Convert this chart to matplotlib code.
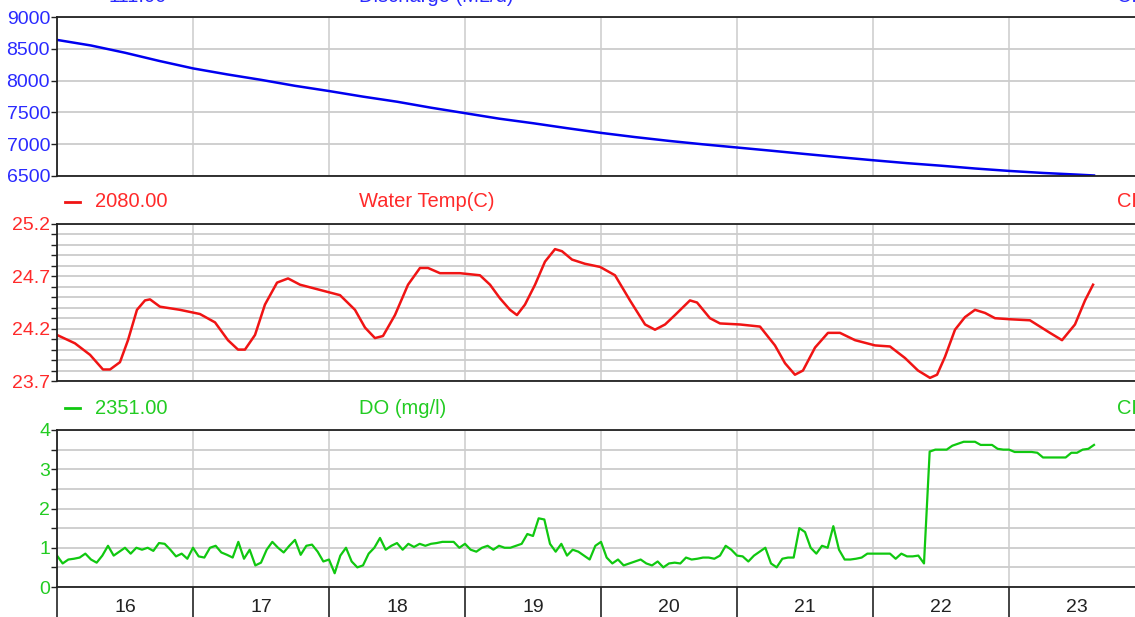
import matplotlib
matplotlib.use('Agg')
import matplotlib.pyplot as plt
from matplotlib.lines import Line2D
from matplotlib.ticker import MultipleLocator, FixedLocator

plt.rcParams['font.family'] = ['Liberation Sans', 'DejaVu Sans']

# days of the month; day N runs from N.0 to N+1.0
day_ticks = [16, 17, 18, 19, 20, 21, 22, 23]
day_labels = ['16', '17', '18', '19', '20', '21', '22', '23']

# Discharge (ML/d), 6-hourly from the 16th 00:00
q_hours = list(range(0, 181, 6)) + [183]
q_vals = [8640, 8552, 8438, 8310, 8192, 8098, 8012, 7918, 7836, 7748, 7668,
          7574, 7488, 7402, 7330, 7252, 7178, 7112, 7052, 6998, 6948, 6898,
          6846, 6796, 6748, 6702, 6662, 6618, 6580, 6548, 6522, 6508]

# Water temperature (C)
t_days = [16.000, 16.132, 16.243, 16.338, 16.390, 16.463, 16.522, 16.588,
          16.647, 16.684, 16.757, 16.904, 17.051, 17.162, 17.257, 17.331,
          17.382, 17.456, 17.529, 17.618, 17.699, 17.787, 17.934, 18.081,
          18.191, 18.265, 18.338, 18.397, 18.485, 18.581, 18.669, 18.728,
          18.816, 18.963, 19.110, 19.184, 19.257, 19.331, 19.382, 19.441,
          19.515, 19.588, 19.662, 19.713, 19.787, 19.882, 19.993, 20.103,
          20.213, 20.324, 20.397, 20.471, 20.544, 20.654, 20.706, 20.801,
          20.875, 21.022, 21.169, 21.279, 21.353, 21.426, 21.485, 21.574,
          21.669, 21.757, 21.868, 22.015, 22.125, 22.235, 22.331, 22.419,
          22.471, 22.529, 22.603, 22.676, 22.750, 22.824, 22.897, 23.007,
          23.154, 23.301, 23.390, 23.485, 23.559, 23.618]
t_vals = [24.14, 24.06, 23.95, 23.81, 23.81, 23.88, 24.09, 24.38,
          24.47, 24.48, 24.41, 24.38, 24.34, 24.26, 24.09, 24.00,
          24.00, 24.14, 24.43, 24.64, 24.68, 24.62, 24.57, 24.52,
          24.38, 24.21, 24.11, 24.13, 24.33, 24.62, 24.78, 24.78,
          24.73, 24.73, 24.71, 24.62, 24.49, 24.38, 24.33, 24.43,
          24.62, 24.84, 24.96, 24.94, 24.86, 24.82, 24.79, 24.71,
          24.47, 24.24, 24.19, 24.24, 24.33, 24.47, 24.45, 24.30,
          24.25, 24.24, 24.22, 24.04, 23.87, 23.76, 23.80, 24.02,
          24.16, 24.16, 24.09, 24.04, 24.03, 23.92, 23.80, 23.73,
          23.76, 23.93, 24.19, 24.31, 24.38, 24.35, 24.30, 24.29,
          24.28, 24.16, 24.09, 24.24, 24.47, 24.62]

# Dissolved oxygen (mg/l), hourly from the 16th 00:00
do_vals = [
    0.80, 0.60, 0.70, 0.72, 0.75, 0.85, 0.70, 0.62, 0.80, 1.05, 0.80, 0.90,
    1.00, 0.85, 1.00, 0.95, 1.00, 0.92, 1.12, 1.10, 0.95, 0.78, 0.85, 0.72,
    1.00, 0.78, 0.75, 1.00, 1.05, 0.88, 0.82, 0.75, 1.15, 0.72, 0.95, 0.55,
    0.62, 0.95, 1.15, 1.00, 0.88, 1.05, 1.20, 0.82, 1.05, 1.08, 0.90, 0.65,
    0.70, 0.35, 0.80, 1.00, 0.65, 0.50, 0.55, 0.85, 1.00, 1.25, 0.95, 1.05,
    1.12, 0.95, 1.10, 1.02, 1.10, 1.05, 1.10, 1.12, 1.15, 1.15, 1.15, 1.00,
    1.10, 0.95, 0.90, 1.00, 1.05, 0.95, 1.05, 1.00, 1.00, 1.05, 1.10, 1.35,
    1.30, 1.75, 1.72, 1.10, 0.90, 1.10, 0.80, 0.95, 0.90, 0.80, 0.70, 1.05,
    1.15, 0.75, 0.60, 0.70, 0.55, 0.60, 0.65, 0.70, 0.60, 0.55, 0.65, 0.50,
    0.60, 0.62, 0.60, 0.75, 0.70, 0.72, 0.75, 0.75, 0.72, 0.80, 1.05, 0.95,
    0.80, 0.78, 0.65, 0.80, 0.90, 1.00, 0.60, 0.50, 0.72, 0.75, 0.75, 1.50,
    1.40, 1.00, 0.85, 1.05, 1.00, 1.55, 0.95, 0.70, 0.70, 0.72, 0.75, 0.85,
    0.85, 0.85, 0.85, 0.85, 0.72, 0.85, 0.78, 0.78, 0.80, 0.60, 3.45, 3.50,
    3.50, 3.50, 3.60, 3.65, 3.70, 3.70, 3.70, 3.62, 3.62, 3.62, 3.52, 3.50,
    3.50, 3.44, 3.44, 3.44, 3.44, 3.42, 3.30, 3.30, 3.30, 3.30, 3.30, 3.42,
    3.42, 3.50, 3.52, 3.62]

W, H = 1135, 617
fig = plt.figure(figsize=(W / 100, H / 100), dpi=100)

BLUE, RED, GREEN = '#0000f0', '#f01414', '#10c810'
BLUE_T, RED_T, GREEN_T = '#2a2aff', '#ff2a2a', '#22cc22'
GRID = '#cccccc'
FS = 14       # tick labels
FS_HEAD = 14.5


def panel(top, bottom):
    ax = fig.add_axes([57 / W, 1 - bottom / H, (W - 57) / W, (bottom - top) / H])
    ax.set_xlim(16, 16 + (W - 57) / 136)
    ax.spines['right'].set_visible(False)
    for s in ['left', 'top', 'bottom']:
        ax.spines[s].set_color('#222222')
        ax.spines[s].set_linewidth(1.3)
    ax.set_xticks(day_ticks)
    ax.tick_params(axis='x', length=0, labelbottom=False)
    ax.grid(True, axis='x', color=GRID, linewidth=1.1)
    ax.set_axisbelow(True)
    return ax


def style_y(ax, color):
    ax.tick_params(axis='y', which='both', direction='out', length=4, width=1,
                   pad=1, labelsize=FS, labelcolor=color, color='#222222')
    ax.grid(True, axis='y', which='both', color=GRID, linewidth=1.3)


def header(y, value, name, color, line_color):
    fig.text(167 / W, 1 - y / H, value, color=color, fontsize=FS_HEAD,
             ha='right', va='center')
    fig.text(359 / W, 1 - y / H, name, color=color, fontsize=FS_HEAD,
             ha='left', va='center')
    fig.text(1117 / W, 1 - y / H, 'CF', color=color, fontsize=FS_HEAD,
             ha='left', va='center')
    fig.add_artist(Line2D([65 / W, 80 / W], [1 - y / H, 1 - y / H],
                          color=line_color, linewidth=2))


# discharge
ax1 = panel(17, 176)
ax1.plot([16 + h / 24 for h in q_hours], q_vals, color=BLUE, linewidth=1.8)
ax1.set_ylim(6500, 9000)
ax1.yaxis.set_major_locator(MultipleLocator(500))
style_y(ax1, BLUE_T)
header(-4, '111.00', 'Discharge (ML/d)', BLUE_T, BLUE)

# water temperature
ax2 = panel(224, 381)
ax2.plot(t_days, t_vals, color=RED, linewidth=1.8)
ax2.set_ylim(23.7, 25.2)
ax2.yaxis.set_major_locator(FixedLocator([23.7, 24.2, 24.7, 25.2]))
ax2.yaxis.set_minor_locator(FixedLocator([23.7 + 0.1 * i for i in range(16)]))
ax2.set_yticklabels(['23.7', '24.2', '24.7', '25.2'])
style_y(ax2, RED_T)
header(202, '2080.00', 'Water Temp(C)', RED_T, RED)

# dissolved oxygen
ax3 = panel(430, 587)
ax3.plot([16 + h / 24 for h in range(len(do_vals))], do_vals, color=GREEN, linewidth=1.6)
ax3.set_ylim(0, 4)
ax3.yaxis.set_major_locator(MultipleLocator(1))
ax3.yaxis.set_minor_locator(MultipleLocator(0.5))
style_y(ax3, GREEN_T)
header(408, '2351.00', 'DO (mg/l)', GREEN_T, GREEN)

ax3.tick_params(axis='x', which='major', length=22, width=1.1, color='#111111',
                direction='out', labelbottom=False)
ax3.set_xticks([d + 0.5 for d in day_ticks], minor=True)
ax3.set_xticklabels(day_labels, minor=True)
ax3.tick_params(axis='x', which='minor', length=0, pad=8.5, labelsize=FS,
                labelcolor='#222222', labelbottom=True)

fig.savefig('out.png', dpi=100)
